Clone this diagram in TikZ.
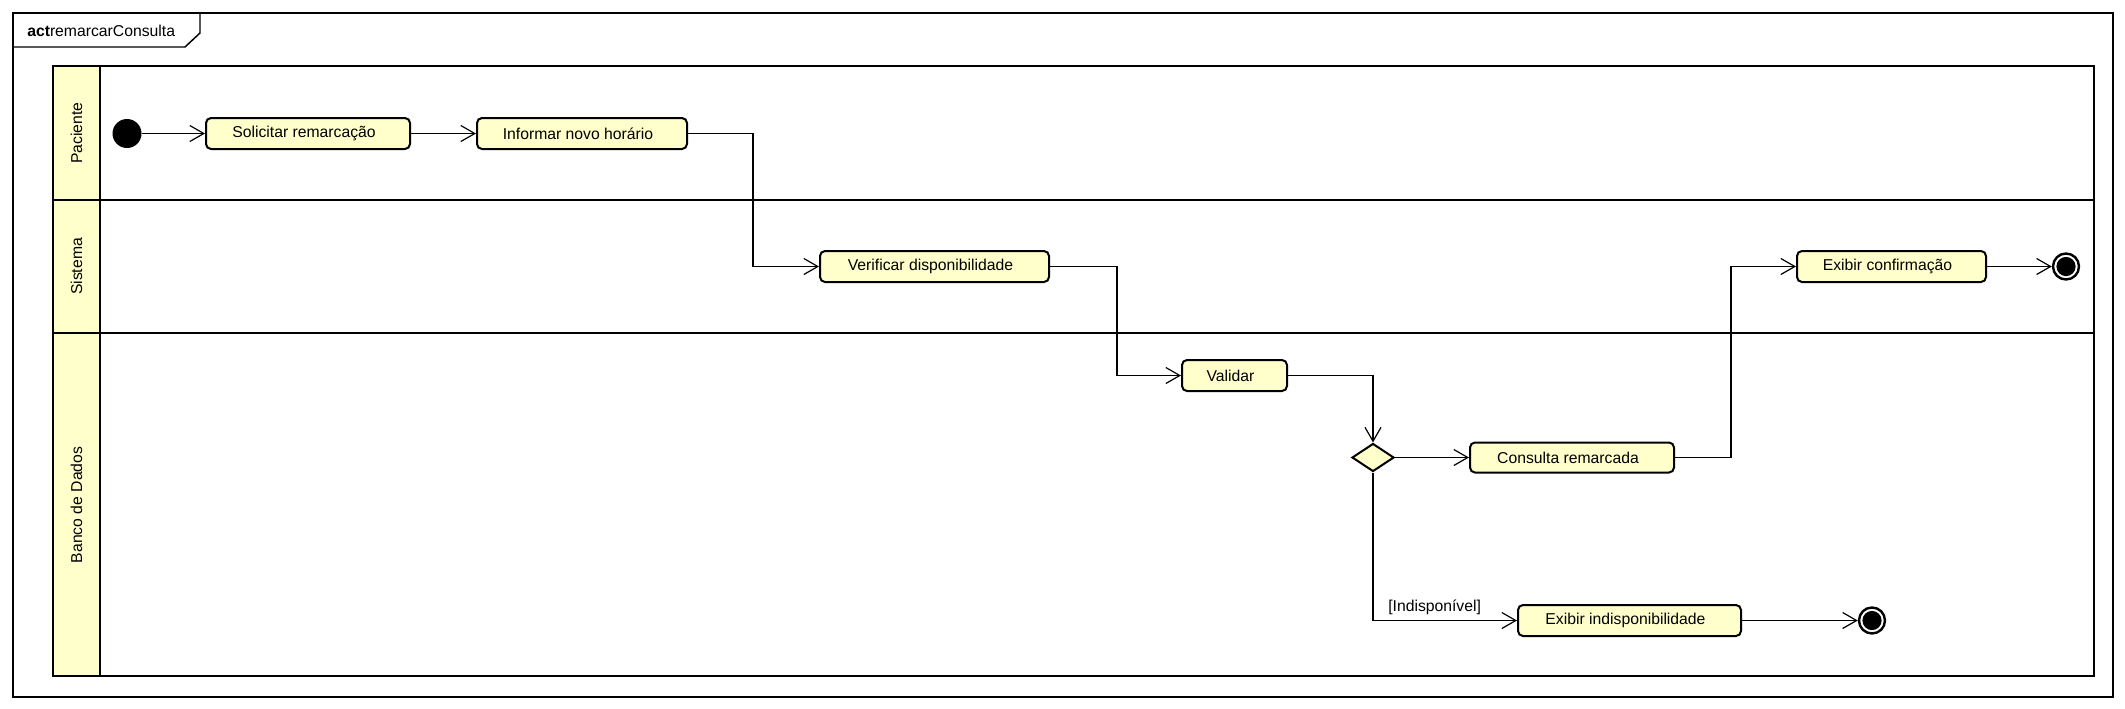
\documentclass[tikz,border=0pt]{standalone}
\usepackage{fontspec}
\setmainfont{Liberation Sans}
\usetikzlibrary{arrows.meta,shapes.geometric}
\definecolor{actfill}{HTML}{FFFFCC}
\begin{document}
\begin{tikzpicture}[x=0.75pt,y=-0.75pt,
  font=\fontsize{11.8pt}{14pt}\selectfont,
  actbox/.style={draw,line width=1.5pt,rounded corners=3.75pt,fill=actfill,minimum height=23.25pt,inner sep=0pt,
    execute at end node={\hspace*{6pt}}},
  flow/.style={line width=0.9pt,-{Straight Barb[length=10.5pt,width=12pt,line width=0.9pt]}},
  lane/.style={line width=2.2pt},
  lanelabel/.style={rotate=90,inner sep=0pt},
  initnode/.style={circle,fill=black,minimum size=21.75pt,inner sep=0pt},
  finalnode/.style={circle,draw=black,line width=1.8pt,fill=white,minimum size=19.5pt,inner sep=0pt,
    path picture={\fill[black] (path picture bounding box.center) circle (7.2pt);}},
  decnode/.style={diamond,draw,line width=1.5pt,fill=actfill,minimum width=31.5pt,minimum height=21pt,inner sep=0pt}]
\useasboundingbox (0,0) rectangle (2125,708);
% outer frame
\draw[line width=1.1pt] (13,13) rectangle (2113,697);
\draw[line width=1.1pt] (13,47) -- (185,47) -- (200,33) -- (200,13);
\node[anchor=west,inner sep=0pt] (hdr) at (27,31) {\textbf{act}remarcarConsulta};
% swimlanes
\fill[actfill] (53,66) rectangle (100,676);
\draw[lane] (53,66) rectangle (2094,676);
\draw[lane] (100,66) -- (100,676);
\draw[lane] (53,200) -- (2094,200);
\draw[lane] (53,333) -- (2094,333);
\node[lanelabel] (lp) at (76.5,133) {Paciente};
\node[lanelabel] (ls) at (76.5,266.5) {Sistema};
\node[lanelabel] (lb) at (76.5,505) {Banco de Dados};
% nodes
\node[initnode] (init) at (127,133.5) {};
\node[actbox,minimum width=153pt] (sol) at (308,133.5) {Solicitar remarcação};
\node[actbox,minimum width=157.5pt] (inf) at (582,133.5) {Informar novo horário};
\node[actbox,minimum width=171.75pt] (ver) at (934.5,266.5) {Verificar disponibilidade};
\node[actbox,minimum width=78.75pt] (val) at (1234.5,375.5) {Validar};
\node[decnode] (dec) at (1373,457.5) {};
\node[actbox,minimum width=153pt,minimum height=22.5pt] (con) at (1572,457.5) {Consulta remarcada};
\node[actbox,minimum width=141.75pt] (exc) at (1891.5,266.5) {Exibir confirmação};
\node[finalnode] (fin1) at (2066,266.5) {};
\node[actbox,minimum width=167.25pt] (exi) at (1629.5,620.5) {Exibir indisponibilidade};
\node[finalnode] (fin2) at (1872,620.5) {};
% connectors
\draw[flow] (init) -- (sol);
\draw[flow] (sol) -- (inf);
\draw[flow] (inf.east) -- (753,133.5) |- (ver.west);
\draw[flow] (ver.east) -- (1117,266.5) |- (val.west);
\draw[flow] (val.east) -| (dec.north);
\draw[flow] (dec.east) -- (con.west);
\draw[flow] (con.east) -- (1731,457.5) |- (exc.west);
\draw[flow] (exc.east) -- (fin1);
\draw[flow] (dec.south) |- (exi.west);
\node[anchor=south west,inner sep=0pt] (lbl) at (1388,615) {[Indisponível]};
\draw[flow] (exi.east) -- (fin2);
\end{tikzpicture}
\end{document}
